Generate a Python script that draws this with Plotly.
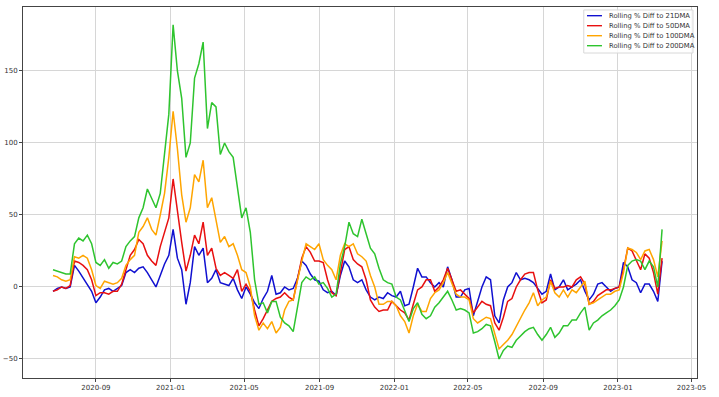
import pandas as pd
import plotly.graph_objects as go

# Weekly samples, starting 2020-06-23
start_date = "2020-06-23"

diff_21 = [-3, -1, 0, -1, 0, 15, 11, 6, 2, -3, -11,
           -7, -2, -1, -3, -1, 1, 10, 12, 10, 13,
           14, 10, 5, 0, 8, 16, 22, 40, 20, 12,
           -12, 3, 28, 22, 27, 3, 6, 12, 3, 2,
           1, 6, -2, -8, 0, -5, -11, -15, -8, -3,
           8, -5, -4, 0, -2, -1, 6, 18, 15, 9,
           5, 4, -2, -4, -3, -6, 8, 18, 14, 5,
           3, 5, -2, -7, -9, -7, -8, -4, -6, -7,
           -3, -13, -12, 0, 13, 7, 7, 3, 0, 3,
           0, 14, 5, -7, -7, -2, -1, -20, -10, 0,
           7, 5, -20, -25, -9, 0, 3, 10, 5, 6,
           5, 3, -1, -5, -3, 9, -2, 0, 5, -2,
           0, 2, 5, -3, -9, -5, 2, 3, 0, -3,
           -1, 0, 17, 14, 5, 3, -4, 2, 2, -3,
           -10, 18]

diff_50 = [-3, -2, 0, -1, 1, 18, 17, 15, 12, 5, -6,
           -4, -4, -5, -3, -3, 2, 12, 22, 26, 33,
           30, 22, 18, 15, 28, 38, 48, 75, 52, 31,
           11, 22, 36, 30, 45, 22, 27, 13, 8, 10,
           8, 6, 12, -3, 2, -3, -16, -27, -22, -16,
           -10, -8, -7, -4, -7, -9, 5, 20, 28, 24,
           18, 18, 17, 5, -4, -6, 10, 26, 28, 19,
           16, 14, 5, -9, -14, -17, -16, -16, -10, -13,
           -16, -18, -23, -12, -2, 0, 5, 5, -3, 0,
           5, 13, 5, -3, -2, -5, -8, -18, -14, -10,
           -12, -13, -25, -30, -21, -10, -8, 0, 5, 9,
           10, 10, -2, -11, -9, 5, -1, 0, 0, 1,
           0, 5, 7, 2, -12, -10, -6, -4, -2, -2,
           -1, 0, 12, 27, 25, 18, 12, 23, 20, 10,
           -5, 20]

diff_100 = [8, 7, 5, 4, 5, 21, 20, 22, 20, 12, 1,
            -1, 4, 3, 2, 3, 6, 15, 19, 22, 38,
            42, 48, 40, 36, 50, 65, 90, 122, 96, 64,
            45, 55, 78, 73, 88, 55, 62, 47, 31, 35,
            28, 30, 22, 12, 10, 0, -20, -30, -25, -29,
            -24, -32, -28, -16, -10, -9, 5, 18, 30, 28,
            26, 30, 19, 15, 12, 5, 22, 30, 28, 30,
            23, 21, 18, 8, 0, -12, -12, -10, -10, -13,
            -20, -24, -32, -20, -12, -17, -17, -8, -4, -2,
            3, 10, 2, -5, -7, -7, -9, -22, -25, -23,
            -21, -22, -33, -43, -40, -37, -33, -27, -22, -16,
            -11, -4, -13, -9, -7, 4, -4, -7, -2, -7,
            -2, -4, 0, 4, -12, -11, -9, -7, -5, -5,
            -3, -2, 10, 27, 26, 24, 19, 25, 26, 19,
            7, 32]

diff_200 = [12, 11, 10, 9, 9, 30, 34, 32, 36, 30, 17,
            15, 19, 13, 17, 16, 18, 28, 32, 35, 48,
            55, 68, 62, 55, 65, 95, 120, 182, 150, 131,
            90, 100, 145, 155, 170, 110, 128, 125, 92, 100,
            94, 90, 70, 48, 55, 38, 5, -12, -11, -18,
            -10, -10, -21, -25, -27, -31, -14, 3, 7, 5,
            7, 2, 3, -1, -7, -5, 16, 28, 45, 37,
            35, 47, 37, 27, 23, 13, 5, 3, 2, -7,
            -9, -17, -24, -15, -11, -19, -22, -20, -14, -11,
            -7, -3, -9, -16, -15, -16, -18, -32, -31, -29,
            -26, -27, -38, -50, -44, -41, -42, -37, -34, -31,
            -29, -28, -33, -37, -33, -28, -35, -32, -27, -27,
            -23, -23, -18, -14, -30, -25, -23, -20, -18, -16,
            -13, -9, 0, 15, 18, 19, 18, 12, 18, 14,
            0, 40]

series_names = ["Rolling % Diff to 21DMA", "Rolling % Diff to 50DMA",
                "Rolling % Diff to 100DMA", "Rolling % Diff to 200DMA"]
series_colors = ["#1010d0", "#e81010", "#ffa500", "#2ec42e"]

tick_dates = ["2020-09-01", "2021-01-01", "2021-05-01", "2021-09-01", "2022-01-01",
              "2022-05-01", "2022-09-01", "2023-01-01", "2023-05-01"]
tick_labels = ["2020-09", "2021-01", "2021-05", "2021-09", "2022-01",
               "2022-05", "2022-09", "2023-01", "2023-05"]
y_ticks = [-50, 0, 50, 100, 150]

dates = pd.date_range(start=start_date, periods=len(diff_21), freq="7D")

fig = go.Figure()
for name, vals, col in zip(series_names, [diff_21, diff_50, diff_100, diff_200], series_colors):
    fig.add_trace(go.Scatter(x=dates, y=vals, mode="lines", name=name,
                             line=dict(color=col, width=1.5), showlegend=False))

axis_common = dict(showgrid=True, gridcolor="#d6d6d6", gridwidth=1,
                   showline=True, linecolor="#444444", linewidth=1, mirror=True,
                   ticks="outside", ticklen=3, tickcolor="#444444", zeroline=False,
                   automargin=False,
                   tickfont=dict(family="DejaVu Sans", size=7, color="#333333"))

fig.update_xaxes(range=["2020-05-05", "2023-05-10"], tickvals=tick_dates,
                 ticktext=tick_labels, **axis_common)
fig.update_yaxes(range=[-63.2, 194.4], tickvals=y_ticks, **axis_common)

# Compact matplotlib-style legend (box, line swatches and labels)
legend_rows_y = [0.9766, 0.9496, 0.9226, 0.8957]
shapes = [dict(type="rect", xref="paper", yref="paper", x0=0.832, x1=0.994,
               y0=0.876, y1=0.992, line=dict(color="#d8d8d8", width=1),
               fillcolor="rgba(255,255,255,0.85)", layer="above")]
annotations = []
for name, col, yy in zip(series_names, series_colors, legend_rows_y):
    shapes.append(dict(type="line", xref="paper", yref="paper", x0=0.8368, x1=0.859,
                       y0=yy, y1=yy, line=dict(color=col, width=1.4), layer="above"))
    annotations.append(dict(xref="paper", yref="paper", x=0.8665, y=yy, text=name,
                            showarrow=False, xanchor="left", yanchor="middle",
                            font=dict(family="DejaVu Sans", size=6.8, color="#333333")))

fig.update_layout(
    width=719, height=397,
    margin=dict(l=23, r=22, t=7, b=19),
    paper_bgcolor="white", plot_bgcolor="white",
    font=dict(family="DejaVu Sans", size=7, color="#333333"),
    showlegend=False,
    hovermode=False,
    shapes=shapes,
    annotations=annotations,
)

fig.write_html("out.html", config={"displayModeBar": False},
               post_script="document.body.style.margin='0';document.body.style.overflow='hidden';")
